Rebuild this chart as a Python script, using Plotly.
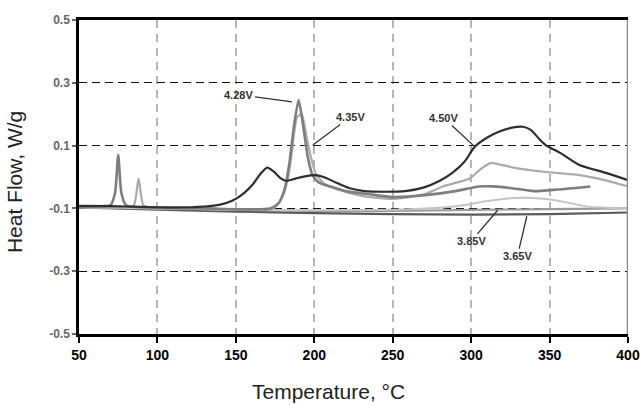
import plotly.graph_objects as go

# ---------------- data ----------------
t_450 = [50, 70, 90, 110, 130, 140, 148, 155, 161, 166, 170, 174, 178, 182, 188, 194, 200, 206, 214,
         222, 232, 245, 258, 270, 280, 288, 296, 302, 310, 318, 326, 333, 338, 344, 348, 357, 369, 386, 400]
v_450 = [-0.092, -0.093, -0.095, -0.097, -0.094, -0.088, -0.075, -0.052, -0.022, 0.012, 0.030, 0.018, -0.002,
         -0.012, -0.005, 0.002, 0.006, 0.000, -0.018, -0.035, -0.045, -0.047, -0.045, -0.033, -0.012, 0.013,
         0.050, 0.095, 0.125, 0.145, 0.157, 0.160, 0.150, 0.118, 0.100, 0.076, 0.038, 0.013, -0.010]

t_428 = [50, 65, 70, 73, 75, 77, 80, 100, 130, 160, 172, 177, 181, 184, 187, 190, 193, 196, 199, 203,
         210, 220, 235, 250, 272, 290, 305, 314, 325, 340, 355, 376]
v_428 = [-0.095, -0.093, -0.090, -0.050, 0.070, -0.050, -0.090, -0.098, -0.100, -0.103, -0.100, -0.085,
         -0.040, 0.040, 0.160, 0.245, 0.160, 0.060, 0.005, -0.018, -0.030, -0.045, -0.055, -0.064, -0.057,
         -0.045, -0.030, -0.030, -0.035, -0.045, -0.040, -0.030]

t_435 = [50, 80, 85, 88, 91, 96, 120, 160, 174, 179, 183, 186, 189, 192, 195, 198, 201, 206, 215, 230,
         250, 270, 282, 299, 306, 313, 320, 327, 348, 369, 385, 400]
v_435 = [-0.097, -0.097, -0.090, -0.005, -0.090, -0.098, -0.100, -0.105, -0.100, -0.070, -0.010, 0.090,
         0.190, 0.200, 0.130, 0.060, 0.010, -0.020, -0.040, -0.060, -0.070, -0.055, -0.030, -0.005, 0.025,
         0.045, 0.038, 0.030, 0.016, 0.006, -0.010, -0.030]

t_4xx = [50, 100, 150, 200, 250, 280, 295, 306, 318, 327, 335, 348, 360, 375, 400]
v_4xx = [-0.096, -0.100, -0.104, -0.106, -0.104, -0.098, -0.090, -0.080, -0.072, -0.067, -0.066, -0.070,
         -0.080, -0.095, -0.100]

t_385 = [50, 100, 150, 200, 250, 300, 350, 400]
v_385 = [-0.093, -0.100, -0.105, -0.108, -0.108, -0.105, -0.102, -0.100]

t_365 = [50, 100, 150, 200, 250, 300, 350, 400]
v_365 = [-0.097, -0.104, -0.110, -0.115, -0.118, -0.120, -0.118, -0.113]

x_ticks = [50, 100, 150, 200, 250, 300, 350, 400]
y_ticks = [-0.5, -0.3, -0.1, 0.1, 0.3, 0.5]

# label text, label position, point position
lbl_text = ["4.28V", "4.35V", "4.50V", "3.85V", "3.65V"]
lbl_tx = [152.0, 223.0, 282.6, 300.0, 329.5]
lbl_ty = [0.262, 0.191, 0.188, -0.205, -0.252]
lbl_px = [185.8, 199.1, 302.4, 317.0, 335.5]
lbl_py = [0.239, 0.102, 0.096, -0.105, -0.125]

# ---------------- figure ----------------
fig = go.Figure()
series = [
    (t_365, v_365, "#5a5a5a", 2.2),
    (t_385, v_385, "#9a9a9a", 2.2),
    (t_4xx, v_4xx, "#c4c4c4", 2.0),
    (t_435, v_435, "#ababab", 2.2),
    (t_428, v_428, "#7e7e7e", 2.6),
    (t_450, v_450, "#2e2e2e", 2.2),
]
for xs, ys, col, w in series:
    fig.add_trace(go.Scatter(x=xs, y=ys, mode="lines",
                             line=dict(color=col, width=w, shape="spline", smoothing=0.6),
                             showlegend=False, hoverinfo="skip"))

for txt, tx, ty, px, py in zip(lbl_text, lbl_tx, lbl_ty, lbl_px, lbl_py):
    fig.add_annotation(x=px, y=py, ax=tx, ay=ty, xref="x", yref="y", axref="x", ayref="y",
                       text=txt, showarrow=True, arrowhead=0, arrowwidth=1.3, arrowcolor="#333",
                       font=dict(family="Liberation Sans", size=11, color="#333", weight="bold"))

# right border (grey)
fig.add_shape(type="line", x0=400, x1=400, y0=-0.5, y1=0.5, xref="x", yref="y",
              line=dict(color="#8a8a8a", width=2.5))

fig.add_annotation(text="Heat Flow, W/g", xref="paper", yref="paper", x=-0.117, y=0.483,
                   textangle=-90, showarrow=False, xanchor="center", yanchor="middle",
                   font=dict(family="Liberation Sans", size=21, color="#222"))
fig.add_annotation(text="Temperature, °C", xref="paper", yref="paper", x=0.455, y=-0.183,
                   showarrow=False, xanchor="center", yanchor="middle",
                   font=dict(family="Liberation Sans", size=21, color="#222"))

fig.update_layout(
    width=642, height=405,
    margin=dict(l=79, r=14, t=20, b=71),
    paper_bgcolor="white", plot_bgcolor="white",
    xaxis=dict(range=[50, 400], tickvals=x_ticks, ticktext=[str(v) for v in x_ticks],
               showgrid=True, gridcolor="#b5b5b5", griddash="8px,6px", gridwidth=1.8,
               showline=True, linecolor="black", linewidth=2.5, mirror=True,
               ticks="outside", ticklen=6, tickwidth=2, tickcolor="black",
               tickfont=dict(family="Liberation Sans", size=14, color="black", weight="bold"),
               zeroline=False, automargin=False),
    yaxis=dict(range=[-0.5, 0.5], tickvals=y_ticks, ticktext=["-0.5", "-0.3", "-0.1", "0.1", "0.3", "0.5"],
               showgrid=True, gridcolor="#111", griddash="8px,5px", gridwidth=1,
               showline=True, linecolor="black", linewidth=2.5,
               ticks="outside", ticklen=4, tickwidth=1.5, tickcolor="#666",
               tickfont=dict(family="Liberation Sans", size=12, color="#666", weight="bold"),
               zeroline=False, automargin=False),
)

fig.write_html("out.html", config={"displayModeBar": False},
               post_script="document.body.style.margin='0';document.body.style.overflow='hidden';")
